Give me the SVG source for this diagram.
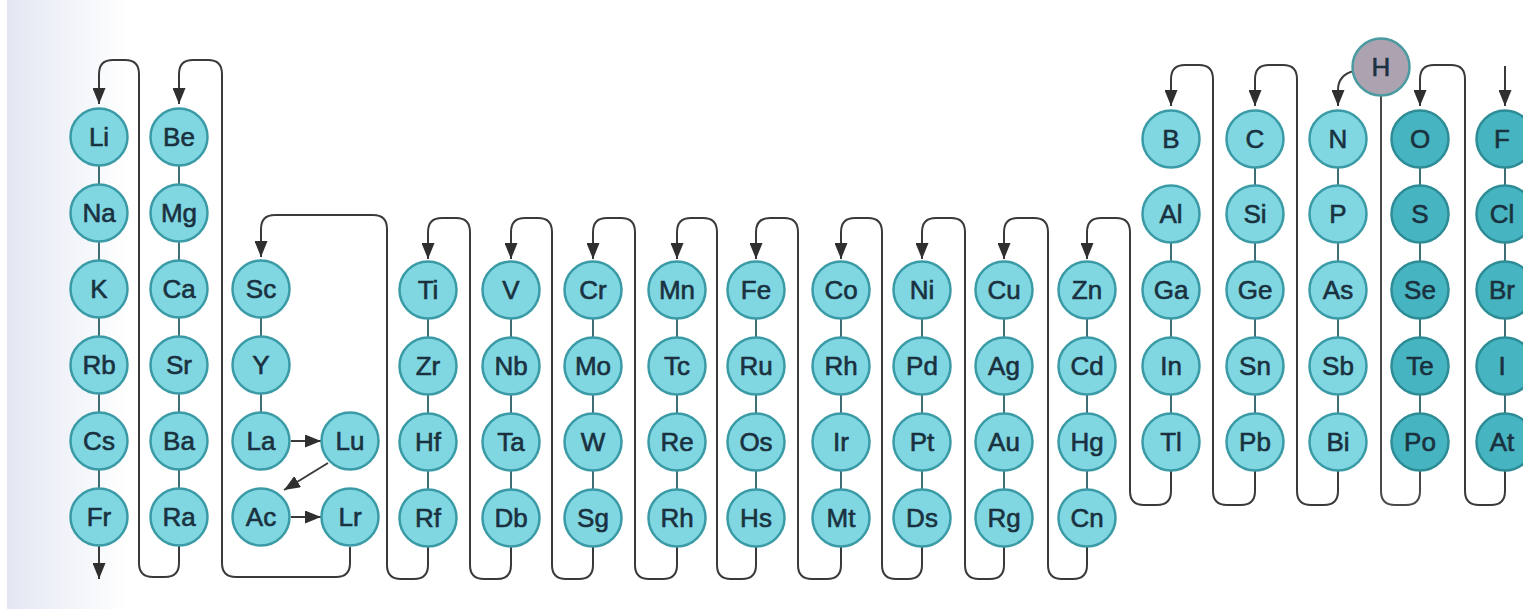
<svg xmlns="http://www.w3.org/2000/svg" width="1523" height="609" viewBox="0 0 1523 609">
<defs>
<linearGradient id="bg" x1="0" y1="0" x2="1" y2="0">
<stop offset="0" stop-color="#e2e7f2"/>
<stop offset="1" stop-color="#ffffff"/>
</linearGradient>
<marker id="ah" markerUnits="userSpaceOnUse" markerWidth="17" markerHeight="13" refX="16" refY="6.5" orient="auto">
<path d="M0,0 L16,6.5 L0,13 z" fill="#2f2f2f"/>
</marker>
<style>
.ln{fill:none;stroke:#4a4a4a;stroke-width:2}
.ar{fill:none;stroke:#3a3a3a;stroke-width:2;marker-end:url(#ah)}
.lk{stroke:#3f6f74;stroke-width:2}
.c{fill:#80d7e2;stroke:#3a9ba6;stroke-width:2.5}
.d{fill:#46b5c1;stroke:#2d8c96;stroke-width:2.5}
.h{fill:#aca2b0;stroke:#4a9aa2;stroke-width:2.5}
text{font-family:"Liberation Sans",Arial,sans-serif;font-size:26px;fill:#1a3140;text-anchor:middle;stroke:#1a3140;stroke-width:0.6}
</style>
</defs>
<rect width="1523" height="609" fill="#fff"/>
<rect x="7" y="0" width="120" height="609" fill="url(#bg)"/>
<g id="connectors">
<line class="lk" x1="99" y1="137" x2="99" y2="517"/>
<line class="lk" x1="179" y1="137" x2="179" y2="517"/>
<line class="lk" x1="261" y1="290" x2="261" y2="442"/>
<line class="lk" x1="428" y1="290" x2="428" y2="518"/>
<line class="lk" x1="511" y1="290" x2="511" y2="518"/>
<line class="lk" x1="593" y1="290" x2="593" y2="518"/>
<line class="lk" x1="677" y1="290" x2="677" y2="518"/>
<line class="lk" x1="756" y1="290" x2="756" y2="518"/>
<line class="lk" x1="841" y1="290" x2="841" y2="518"/>
<line class="lk" x1="922" y1="290" x2="922" y2="518"/>
<line class="lk" x1="1004" y1="290" x2="1004" y2="518"/>
<line class="lk" x1="1087" y1="290" x2="1087" y2="518"/>
<line class="lk" x1="1171" y1="214" x2="1171" y2="442"/>
<line class="lk" x1="1255" y1="139" x2="1255" y2="442"/>
<line class="lk" x1="1338" y1="139" x2="1338" y2="442"/>
<line class="lk" x1="1420" y1="139" x2="1420" y2="442"/>
<line class="lk" x1="1505" y1="139" x2="1505" y2="442"/>
<path class="ar" d="M1171,471 V491 Q1171,505 1157,505 H1144 Q1130,505 1130,491 V232 Q1130,218 1116,218 H1101 Q1087,218 1087,232 V259"/>
<path class="ar" d="M1087,547 V565 Q1087,579 1073,579 H1062 Q1048,579 1048,565 V232 Q1048,218 1034,218 H1018 Q1004,218 1004,232 V259"/>
<path class="ar" d="M1004,547 V565 Q1004,579 990,579 H979 Q965,579 965,565 V232 Q965,218 951,218 H936 Q922,218 922,232 V259"/>
<path class="ar" d="M922,547 V565 Q922,579 908,579 H896 Q882,579 882,565 V232 Q882,218 868,218 H855 Q841,218 841,232 V259"/>
<path class="ar" d="M841,547 V565 Q841,579 827,579 H812 Q798,579 798,565 V232 Q798,218 784,218 H770 Q756,218 756,232 V259"/>
<path class="ar" d="M756,547 V565 Q756,579 742,579 H731 Q717,579 717,565 V232 Q717,218 703,218 H691 Q677,218 677,232 V259"/>
<path class="ar" d="M677,547 V565 Q677,579 663,579 H649 Q635,579 635,565 V232 Q635,218 621,218 H607 Q593,218 593,232 V259"/>
<path class="ar" d="M593,547 V565 Q593,579 579,579 H566 Q552,579 552,565 V232 Q552,218 538,218 H525 Q511,218 511,232 V259"/>
<path class="ar" d="M511,547 V565 Q511,579 497,579 H484 Q470,579 470,565 V232 Q470,218 456,218 H442 Q428,218 428,232 V259"/>
<path class="ar" d="M428,547 V565 Q428,579 414,579 H401 Q387,579 387,565 V229 Q387,215 373,215 H275 Q261,215 261,229 V257"/>
<path class="ar" d="M350,547 V563 Q350,577 336,577 H236 Q222,577 222,563 V74 Q222,60 208,60 H193 Q179,60 179,74 V104"/>
<path class="ar" d="M179,546 V563 Q179,577 165,577 H153 Q139,577 139,563 V74 Q139,60 125,60 H113 Q99,60 99,74 V104"/>
<path class="ar" d="M99,546 V579"/>
<path class="ar" d="M1255,471 V491 Q1255,505 1241,505 H1227 Q1213,505 1213,491 V79 Q1213,65 1199,65 H1185 Q1171,65 1171,79 V106"/>
<path class="ar" d="M1338,471 V491 Q1338,505 1324,505 H1311 Q1297,505 1297,491 V79 Q1297,65 1283,65 H1269 Q1255,65 1255,79 V106"/>
<path class="ln" d="M1420,471 V491 Q1420,505 1406,505 H1395 Q1381,505 1381,491 V96"/>
<path class="ar" d="M1354,71 Q1338,75 1338,90 V106"/>
<path class="ar" d="M1505,471 V491 Q1505,505 1491,505 H1479 Q1465,505 1465,491 V79 Q1465,65 1451,65 H1434 Q1420,65 1420,79 V106"/>
<path class="ar" d="M1505,66 V106"/>
<path class="ar" d="M291,441 H321"/>
<path class="ar" d="M328,463 L284,490"/>
<path class="ar" d="M291,517 H321"/>
</g>
<g id="Li"><circle class="c" cx="99" cy="137" r="28.5"/><text x="99" y="146">Li</text></g>
<g id="Na"><circle class="c" cx="99" cy="213" r="28.5"/><text x="99" y="222">Na</text></g>
<g id="K"><circle class="c" cx="99" cy="289" r="28.5"/><text x="99" y="298">K</text></g>
<g id="Rb"><circle class="c" cx="99" cy="365" r="28.5"/><text x="99" y="374">Rb</text></g>
<g id="Cs"><circle class="c" cx="99" cy="441" r="28.5"/><text x="99" y="450">Cs</text></g>
<g id="Fr"><circle class="c" cx="99" cy="517" r="28.5"/><text x="99" y="526">Fr</text></g>
<g id="Be"><circle class="c" cx="179" cy="137" r="28.5"/><text x="179" y="146">Be</text></g>
<g id="Mg"><circle class="c" cx="179" cy="213" r="28.5"/><text x="179" y="222">Mg</text></g>
<g id="Ca"><circle class="c" cx="179" cy="289" r="28.5"/><text x="179" y="298">Ca</text></g>
<g id="Sr"><circle class="c" cx="179" cy="365" r="28.5"/><text x="179" y="374">Sr</text></g>
<g id="Ba"><circle class="c" cx="179" cy="441" r="28.5"/><text x="179" y="450">Ba</text></g>
<g id="Ra"><circle class="c" cx="179" cy="517" r="28.5"/><text x="179" y="526">Ra</text></g>
<g id="Sc"><circle class="c" cx="261" cy="289" r="28.5"/><text x="261" y="298">Sc</text></g>
<g id="Y"><circle class="c" cx="261" cy="365" r="28.5"/><text x="261" y="374">Y</text></g>
<g id="La"><circle class="c" cx="261" cy="441" r="28.5"/><text x="261" y="450">La</text></g>
<g id="Ac"><circle class="c" cx="261" cy="517" r="28.5"/><text x="261" y="526">Ac</text></g>
<g id="Lu"><circle class="c" cx="350" cy="441" r="28.5"/><text x="350" y="450">Lu</text></g>
<g id="Lr"><circle class="c" cx="350" cy="517" r="28.5"/><text x="350" y="526">Lr</text></g>
<g id="Ti"><circle class="c" cx="428" cy="290" r="28.5"/><text x="428" y="299">Ti</text></g>
<g id="Zr"><circle class="c" cx="428" cy="366" r="28.5"/><text x="428" y="375">Zr</text></g>
<g id="Hf"><circle class="c" cx="428" cy="442" r="28.5"/><text x="428" y="451">Hf</text></g>
<g id="Rf"><circle class="c" cx="428" cy="518" r="28.5"/><text x="428" y="527">Rf</text></g>
<g id="V"><circle class="c" cx="511" cy="290" r="28.5"/><text x="511" y="299">V</text></g>
<g id="Nb"><circle class="c" cx="511" cy="366" r="28.5"/><text x="511" y="375">Nb</text></g>
<g id="Ta"><circle class="c" cx="511" cy="442" r="28.5"/><text x="511" y="451">Ta</text></g>
<g id="Db"><circle class="c" cx="511" cy="518" r="28.5"/><text x="511" y="527">Db</text></g>
<g id="Cr"><circle class="c" cx="593" cy="290" r="28.5"/><text x="593" y="299">Cr</text></g>
<g id="Mo"><circle class="c" cx="593" cy="366" r="28.5"/><text x="593" y="375">Mo</text></g>
<g id="W"><circle class="c" cx="593" cy="442" r="28.5"/><text x="593" y="451">W</text></g>
<g id="Sg"><circle class="c" cx="593" cy="518" r="28.5"/><text x="593" y="527">Sg</text></g>
<g id="Mn"><circle class="c" cx="677" cy="290" r="28.5"/><text x="677" y="299">Mn</text></g>
<g id="Tc"><circle class="c" cx="677" cy="366" r="28.5"/><text x="677" y="375">Tc</text></g>
<g id="Re"><circle class="c" cx="677" cy="442" r="28.5"/><text x="677" y="451">Re</text></g>
<g id="Rh7"><circle class="c" cx="677" cy="518" r="28.5"/><text x="677" y="527">Rh</text></g>
<g id="Fe"><circle class="c" cx="756" cy="290" r="28.5"/><text x="756" y="299">Fe</text></g>
<g id="Ru"><circle class="c" cx="756" cy="366" r="28.5"/><text x="756" y="375">Ru</text></g>
<g id="Os"><circle class="c" cx="756" cy="442" r="28.5"/><text x="756" y="451">Os</text></g>
<g id="Hs"><circle class="c" cx="756" cy="518" r="28.5"/><text x="756" y="527">Hs</text></g>
<g id="Co"><circle class="c" cx="841" cy="290" r="28.5"/><text x="841" y="299">Co</text></g>
<g id="Rh"><circle class="c" cx="841" cy="366" r="28.5"/><text x="841" y="375">Rh</text></g>
<g id="Ir"><circle class="c" cx="841" cy="442" r="28.5"/><text x="841" y="451">Ir</text></g>
<g id="Mt"><circle class="c" cx="841" cy="518" r="28.5"/><text x="841" y="527">Mt</text></g>
<g id="Ni"><circle class="c" cx="922" cy="290" r="28.5"/><text x="922" y="299">Ni</text></g>
<g id="Pd"><circle class="c" cx="922" cy="366" r="28.5"/><text x="922" y="375">Pd</text></g>
<g id="Pt"><circle class="c" cx="922" cy="442" r="28.5"/><text x="922" y="451">Pt</text></g>
<g id="Ds"><circle class="c" cx="922" cy="518" r="28.5"/><text x="922" y="527">Ds</text></g>
<g id="Cu"><circle class="c" cx="1004" cy="290" r="28.5"/><text x="1004" y="299">Cu</text></g>
<g id="Ag"><circle class="c" cx="1004" cy="366" r="28.5"/><text x="1004" y="375">Ag</text></g>
<g id="Au"><circle class="c" cx="1004" cy="442" r="28.5"/><text x="1004" y="451">Au</text></g>
<g id="Rg"><circle class="c" cx="1004" cy="518" r="28.5"/><text x="1004" y="527">Rg</text></g>
<g id="Zn"><circle class="c" cx="1087" cy="290" r="28.5"/><text x="1087" y="299">Zn</text></g>
<g id="Cd"><circle class="c" cx="1087" cy="366" r="28.5"/><text x="1087" y="375">Cd</text></g>
<g id="Hg"><circle class="c" cx="1087" cy="442" r="28.5"/><text x="1087" y="451">Hg</text></g>
<g id="Cn"><circle class="c" cx="1087" cy="518" r="28.5"/><text x="1087" y="527">Cn</text></g>
<g id="B"><circle class="c" cx="1171" cy="139" r="28.5"/><text x="1171" y="148">B</text></g>
<g id="Al"><circle class="c" cx="1171" cy="214" r="28.5"/><text x="1171" y="223">Al</text></g>
<g id="Ga"><circle class="c" cx="1171" cy="290" r="28.5"/><text x="1171" y="299">Ga</text></g>
<g id="In"><circle class="c" cx="1171" cy="366" r="28.5"/><text x="1171" y="375">In</text></g>
<g id="Tl"><circle class="c" cx="1171" cy="442" r="28.5"/><text x="1171" y="451">Tl</text></g>
<g id="C"><circle class="c" cx="1255" cy="139" r="28.5"/><text x="1255" y="148">C</text></g>
<g id="Si"><circle class="c" cx="1255" cy="214" r="28.5"/><text x="1255" y="223">Si</text></g>
<g id="Ge"><circle class="c" cx="1255" cy="290" r="28.5"/><text x="1255" y="299">Ge</text></g>
<g id="Sn"><circle class="c" cx="1255" cy="366" r="28.5"/><text x="1255" y="375">Sn</text></g>
<g id="Pb"><circle class="c" cx="1255" cy="442" r="28.5"/><text x="1255" y="451">Pb</text></g>
<g id="N"><circle class="c" cx="1338" cy="139" r="28.5"/><text x="1338" y="148">N</text></g>
<g id="P"><circle class="c" cx="1338" cy="214" r="28.5"/><text x="1338" y="223">P</text></g>
<g id="As"><circle class="c" cx="1338" cy="290" r="28.5"/><text x="1338" y="299">As</text></g>
<g id="Sb"><circle class="c" cx="1338" cy="366" r="28.5"/><text x="1338" y="375">Sb</text></g>
<g id="Bi"><circle class="c" cx="1338" cy="442" r="28.5"/><text x="1338" y="451">Bi</text></g>
<g id="O"><circle class="d" cx="1420" cy="139" r="28.5"/><text x="1420" y="148">O</text></g>
<g id="S"><circle class="d" cx="1420" cy="214" r="28.5"/><text x="1420" y="223">S</text></g>
<g id="Se"><circle class="d" cx="1420" cy="290" r="28.5"/><text x="1420" y="299">Se</text></g>
<g id="Te"><circle class="d" cx="1420" cy="366" r="28.5"/><text x="1420" y="375">Te</text></g>
<g id="Po"><circle class="d" cx="1420" cy="442" r="28.5"/><text x="1420" y="451">Po</text></g>
<g id="F"><circle class="d" cx="1505" cy="139" r="28.5"/><text x="1502" y="148">F</text></g>
<g id="Cl"><circle class="d" cx="1505" cy="214" r="28.5"/><text x="1502" y="223">Cl</text></g>
<g id="Br"><circle class="d" cx="1505" cy="290" r="28.5"/><text x="1502" y="299">Br</text></g>
<g id="I"><circle class="d" cx="1505" cy="366" r="28.5"/><text x="1502" y="375">I</text></g>
<g id="At"><circle class="d" cx="1505" cy="442" r="28.5"/><text x="1502" y="451">At</text></g>
<g id="H"><circle class="h" cx="1381" cy="67" r="28.5"/><text x="1381" y="76">H</text></g>
</svg>
